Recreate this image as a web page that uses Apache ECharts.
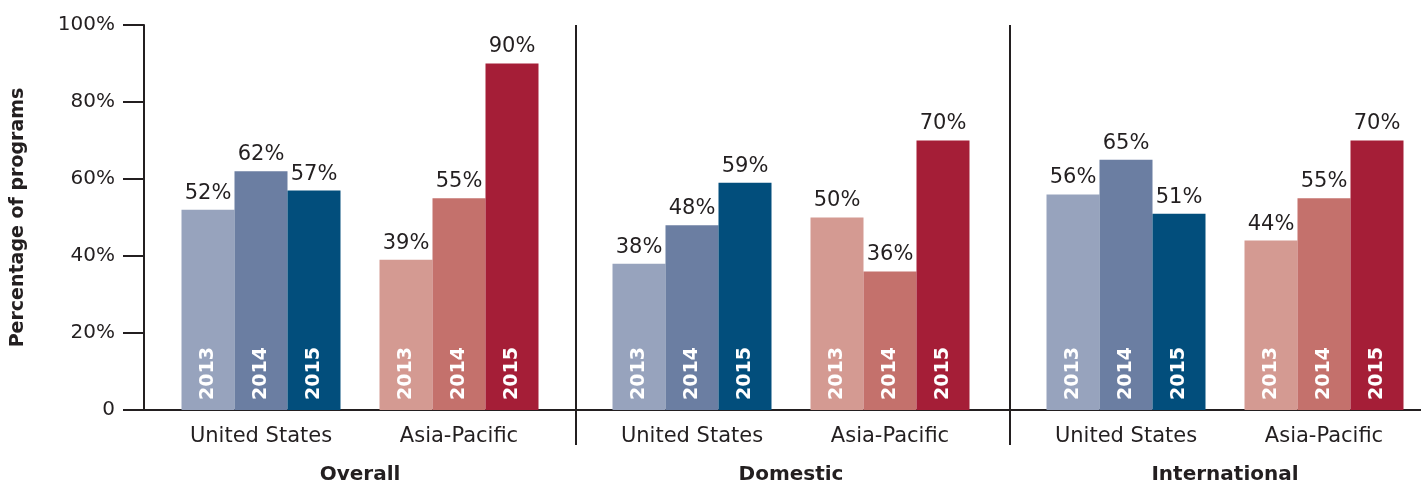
<!DOCTYPE html>
<html>
<head>
<meta charset="utf-8">
<script src="https://cdn.jsdelivr.net/npm/echarts@6/dist/echarts.min.js"></script>
<style>
  html, body { margin: 0; padding: 0; background: #fff; }
  #chart { width: 1421px; height: 483px; }
</style>
</head>
<body>
<div id="chart"></div>
<script>
// data
const panels = ['Overall', 'Domestic', 'International'];
const regions = ['United States', 'Asia-Pacific'];
const years = ['2013', '2014', '2015'];

// values per year (2013, 2014, 2015)
const overallUS = [52, 62, 57];
const overallAP = [39, 55, 90];
const domesticUS = [38, 48, 59];
const domesticAP = [50, 36, 70];
const internationalUS = [56, 65, 51];
const internationalAP = [44, 55, 70];

const usColors = ['#97a3bd', '#6b7ea2', '#024e7c'];
const apColors = ['#d49a92', '#c4716c', '#a51e37'];

const panelData = [
  [overallUS, overallAP],
  [domesticUS, domesticAP],
  [internationalUS, internationalAP]
];

const font = 'DejaVu Sans';
const ink = '#231f20';

const chart = echarts.init(document.getElementById('chart'));

const grids = [{ left: 144, right: 0, top: 25, bottom: 73, outerBoundsMode: 'none' }];
const panelLefts = [162, 593, 1027];
panelLefts.forEach(l => grids.push({ left: l, width: 396, top: 25, bottom: 73, outerBoundsMode: 'none' }));

const xAxes = [{
  gridIndex: 0, type: 'value', min: 0, max: 1,
  axisLine: { show: true, lineStyle: { color: ink, width: 2 } },
  axisTick: { show: false }, axisLabel: { show: false }, splitLine: { show: false }
}];
const yAxes = [{
  gridIndex: 0, type: 'value', min: 0, max: 100, interval: 20,
  axisLine: { show: true, lineStyle: { color: ink, width: 2 } },
  axisTick: { show: true, length: 21, lineStyle: { color: ink, width: 2 } },
  axisLabel: {
    margin: 29, fontFamily: font, fontSize: 20, color: ink,
    formatter: v => (v === 0 ? '0' : v + '%')
  },
  splitLine: { show: false },
  name: 'Percentage of programs', nameLocation: 'middle', nameGap: 116,
  nameTextStyle: { fontFamily: font, fontSize: 19, fontWeight: 'bold', color: ink }
}];

const series = [];
panels.forEach((p, pi) => {
  xAxes.push({
    gridIndex: pi + 1, type: 'category', data: regions,
    axisLine: { show: false }, axisTick: { show: false },
    axisLabel: { margin: 16, fontFamily: font, fontSize: 21, color: ink },
    name: p, nameLocation: 'middle', nameGap: 55,
    nameTextStyle: { fontFamily: font, fontSize: 20, fontWeight: 'bold', color: ink }
  });
  xAxes.push({ gridIndex: pi + 1, type: 'category', data: regions, show: false });
  yAxes.push({ gridIndex: pi + 1, type: 'value', min: 0, max: 100, show: false });

  const [us, ap] = panelData[pi];
  years.forEach((yr, i) => {
    const data = [
      { value: us[i], itemStyle: { color: usColors[i] } },
      { value: ap[i], itemStyle: { color: apColors[i] } }
    ];
    series.push({
      type: 'bar', name: yr, xAxisIndex: 1 + 2 * pi, yAxisIndex: pi + 1,
      data: data, barWidth: 53, barGap: 0,
      label: {
        show: true, position: 'top', distance: 6, formatter: '{c}%',
        fontFamily: font, fontSize: 21, color: ink
      }
    });
    // year labels inside the bars
    series.push({
      type: 'bar', name: yr + ' label', xAxisIndex: 2 + 2 * pi, yAxisIndex: pi + 1,
      data: data.map(d => d.value), barWidth: 53, barGap: 0, silent: true,
      itemStyle: { color: 'rgba(0,0,0,0)' },
      label: {
        show: true, position: 'insideBottom', distance: 10, rotate: 90,
        align: 'left', verticalAlign: 'middle', formatter: yr,
        fontFamily: font, fontSize: 19, fontWeight: 'bold', color: '#fff'
      }
    });
  });
});

chart.setOption({
  animation: false,
  grid: grids,
  xAxis: xAxes,
  yAxis: yAxes,
  series: series,
  graphic: [576, 1010].map(x => ({
    type: 'line', shape: { x1: x, y1: 25, x2: x, y2: 445 },
    style: { stroke: ink, lineWidth: 2 }
  }))
});
</script>
</body>
</html>
